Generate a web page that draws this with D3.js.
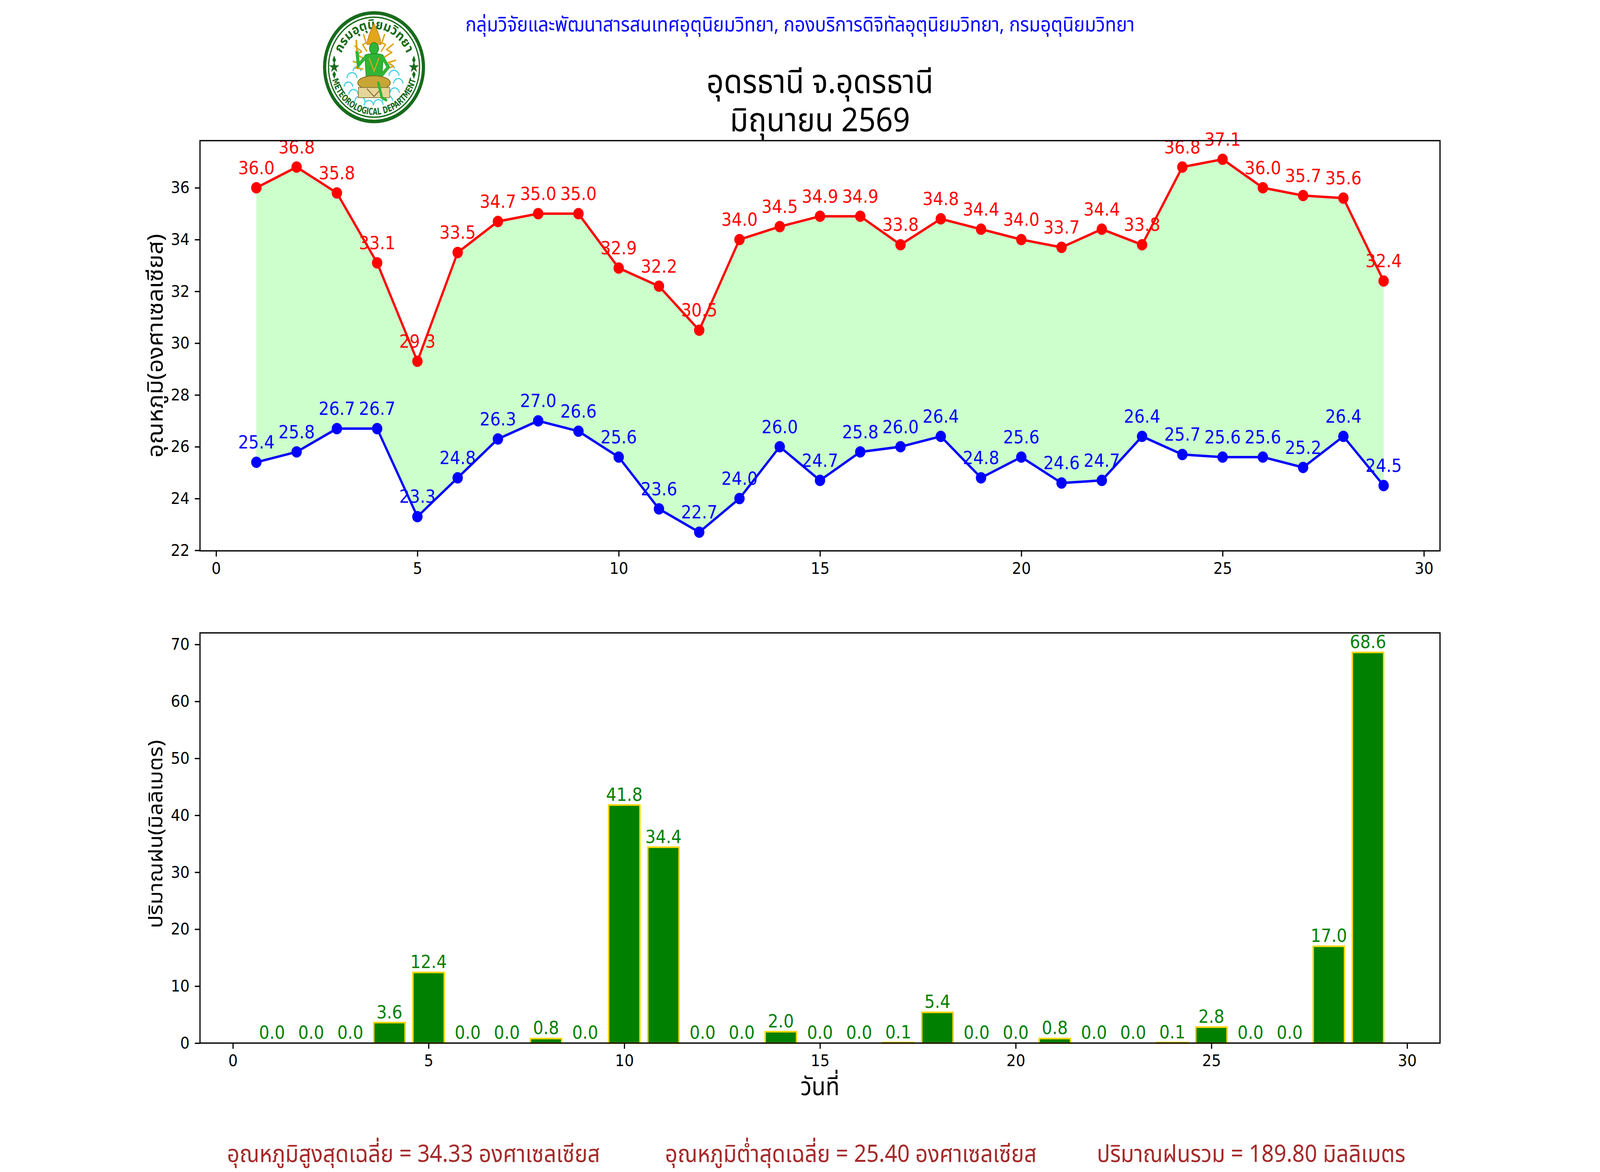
<!DOCTYPE html>
<html>
<head>
<meta charset="utf-8">
<script src="https://cdn.jsdelivr.net/npm/d3@7"></script>
<style>
  html, body { margin: 0; padding: 0; width: 100%; height: 100%; overflow: hidden; background: #fff; }
  svg { display: block; }
</style>
</head>
<body>
<script>
// daily values
var days = [1, 2, 3, 4, 5, 6, 7, 8, 9, 10, 11, 12, 13, 14, 15, 16, 17, 18, 19, 20, 21, 22, 23, 24, 25, 26, 27, 28, 29]
var tmax = [36.0, 36.8, 35.8, 33.1, 29.3, 33.5, 34.7, 35.0, 35.0, 32.9, 32.2, 30.5, 34.0, 34.5, 34.9, 34.9, 33.8, 34.8, 34.4, 34.0, 33.7, 34.4, 33.8, 36.8, 37.1, 36.0, 35.7, 35.6, 32.4]
var tmin = [25.4, 25.8, 26.7, 26.7, 23.3, 24.8, 26.3, 27.0, 26.6, 25.6, 23.6, 22.7, 24.0, 26.0, 24.7, 25.8, 26.0, 26.4, 24.8, 25.6, 24.6, 24.7, 26.4, 25.7, 25.6, 25.6, 25.2, 26.4, 24.5]
var rain = [0.0, 0.0, 0.0, 3.6, 12.4, 0.0, 0.0, 0.8, 0.0, 41.8, 34.4, 0.0, 0.0, 2.0, 0.0, 0.0, 0.1, 5.4, 0.0, 0.0, 0.8, 0.0, 0.0, 0.1, 2.8, 0.0, 0.0, 17.0, 68.6]

var dayTicks = [0, 5, 10, 15, 20, 25, 30]
var tempTicks = [22, 24, 26, 28, 30, 32, 34, 36]
var rainTicks = [0, 10, 20, 30, 40, 50, 60, 70]

var header = 'กลุ่มวิจัยและพัฒนาสารสนเทศอุตุนิยมวิทยา, กองบริการดิจิทัลอุตุนิยมวิทยา, กรมอุตุนิยมวิทยา'
var titleLines = ['อุดรธานี จ.อุดรธานี', 'มิถุนายน 2569']
var tempLabel = 'อุณหภูมิ(องศาเซลเซียส)'
var rainLabel = 'ปริมาณฝน(มิลลิเมตร)'
var dayLabel = 'วันที่'

var W = 4500, H = 3000
var THAI = '"Noto Sans Thai", "Noto Sans Thai UI", Loma, Garuda, "Noto Sans", "DejaVu Sans", sans-serif'
var NUM = '"DejaVu Sans", sans-serif'
var PT = 300 / 72

// drawn in 4500x3000 units, stretched over the whole window
var svg = d3.select('body').append('svg')
  .attr('width', '100%').attr('height', '100%')
  .attr('viewBox', '0 0 ' + W + ' ' + H)
  .attr('preserveAspectRatio', 'none')
svg.append('rect').attr('width', W).attr('height', H).attr('fill', '#fff')

// shrink / grow a text so it spans w units
function fit(sel, w) {
  var len = sel.node().getComputedTextLength()
  if (len > 0) sel.attr('font-size', parseFloat(sel.attr('font-size')) * w / len)
  return sel
}

var left = 562.5, right = 4050
var top1 = 360, bot1 = 1410
var top2 = 1620, bot2 = 2670

function styleAxis(g) {
  g.attr('font-size', 10 * PT).attr('font-family', NUM)
  g.select('.domain').remove()
  g.selectAll('.tick line').attr('stroke', '#000').attr('stroke-width', 0.8 * PT)
  g.selectAll('.tick text').attr('fill', '#000')
}

// ---------- temperature panel ----------
var tLo = d3.min(tmin), tHi = d3.max(tmax), tPad = (tHi - tLo) * 0.05
var x1 = d3.scaleLinear().domain([days[0] - 1.4, days[days.length - 1] + 1.4]).range([left, right])
var y1 = d3.scaleLinear().domain([tLo - tPad, tHi + tPad]).range([bot1, top1])

var p1 = svg.append('g')
p1.append('path')
  .datum(days)
  .attr('fill', '#ccffcc')
  .attr('d', d3.area()
    .x(function(d){ return x1(d) })
    .y0(function(d, i){ return y1(tmin[i]) })
    .y1(function(d, i){ return y1(tmax[i]) }))

var series = [{v: tmax, c: 'red'}, {v: tmin, c: 'blue'}]
series.forEach(function(s) {
  p1.append('path')
    .datum(days)
    .attr('fill', 'none')
    .attr('stroke', s.c)
    .attr('stroke-width', 1.5 * PT)
    .attr('stroke-linejoin', 'round')
    .attr('d', d3.line().x(function(d){ return x1(d) }).y(function(d, i){ return y1(s.v[i]) }))
  p1.selectAll(null).data(days).enter().append('circle')
    .attr('cx', function(d){ return x1(d) })
    .attr('cy', function(d, i){ return y1(s.v[i]) })
    .attr('r', 3.5 * PT)
    .attr('fill', s.c)
  p1.selectAll(null).data(days).enter().append('text')
    .attr('x', function(d){ return x1(d) })
    .attr('y', function(d, i){ return y1(s.v[i]) - 35 })
    .attr('text-anchor', 'middle')
    .attr('font-family', NUM)
    .attr('font-size', 46)
    .attr('fill', s.c)
    .text(function(d, i){ return s.v[i].toFixed(1) })
})

svg.append('g').attr('transform', 'translate(0,' + bot1 + ')')
  .call(d3.axisBottom(x1).tickValues(dayTicks).tickSize(3.5 * PT).tickPadding(3.5 * PT).tickFormat(d3.format('d')))
  .call(styleAxis)
svg.append('g').attr('transform', 'translate(' + left + ',0)')
  .call(d3.axisLeft(y1).tickValues(tempTicks).tickSize(3.5 * PT).tickPadding(3.5 * PT).tickFormat(d3.format('d')))
  .call(styleAxis)
svg.append('rect')
  .attr('x', left).attr('y', top1).attr('width', right - left).attr('height', bot1 - top1)
  .attr('fill', 'none').attr('stroke', '#000').attr('stroke-width', 0.8 * PT)

var yl1 = svg.append('text')
  .attr('transform', 'translate(457,' + ((top1 + bot1) / 2) + ')rotate(-90)')
  .attr('text-anchor', 'middle')
  .attr('font-family', THAI)
  .attr('font-size', 50)
  .attr('fill', '#000')
  .text(tempLabel)
fit(yl1, 573)

// ---------- rain panel ----------
var x2 = d3.scaleLinear().domain([days[0] - 0.4 - 1.44, days[days.length - 1] + 0.4 + 1.44]).range([left, right])
var y2 = d3.scaleLinear().domain([0, d3.max(rain) * 1.05]).range([bot2, top2])

var p2 = svg.append('g')
p2.selectAll(null).data(days).enter().append('rect')
  .attr('x', function(d){ return x2(d - 0.4) })
  .attr('width', function(d){ return x2(d + 0.4) - x2(d - 0.4) })
  .attr('y', function(d, i){ return y2(rain[i]) })
  .attr('height', function(d, i){ return y2(0) - y2(rain[i]) })
  .attr('fill', 'green')
  .attr('stroke', 'gold')
  .attr('stroke-width', 1 * PT)
p2.selectAll(null).data(days).enter().append('text')
  .attr('x', function(d){ return x2(d) })
  .attr('y', function(d, i){ return y2(rain[i]) - 11 })
  .attr('text-anchor', 'middle')
  .attr('font-family', NUM)
  .attr('font-size', 46)
  .attr('fill', 'green')
  .text(function(d, i){ return rain[i].toFixed(1) })

svg.append('g').attr('transform', 'translate(0,' + bot2 + ')')
  .call(d3.axisBottom(x2).tickValues(dayTicks).tickSize(3.5 * PT).tickPadding(3.5 * PT).tickFormat(d3.format('d')))
  .call(styleAxis)
svg.append('g').attr('transform', 'translate(' + left + ',0)')
  .call(d3.axisLeft(y2).tickValues(rainTicks).tickSize(3.5 * PT).tickPadding(3.5 * PT).tickFormat(d3.format('d')))
  .call(styleAxis)
svg.append('rect')
  .attr('x', left).attr('y', top2).attr('width', right - left).attr('height', bot2 - top2)
  .attr('fill', 'none').attr('stroke', '#000').attr('stroke-width', 0.8 * PT)

var yl2 = svg.append('text')
  .attr('transform', 'translate(457,' + ((top2 + bot2) / 2 - 10) + ')rotate(-90)')
  .attr('text-anchor', 'middle')
  .attr('font-family', THAI)
  .attr('font-size', 50)
  .attr('fill', '#000')
  .text(rainLabel)
fit(yl2, 482)

var xl = svg.append('text')
  .attr('x', (left + right) / 2).attr('y', 2803)
  .attr('text-anchor', 'middle')
  .attr('font-family', THAI)
  .attr('font-size', 50)
  .attr('fill', '#000')
  .text(dayLabel)
fit(xl, 110)

// ---------- header, title ----------
var hd = svg.append('text')
  .attr('x', W / 2).attr('y', 80)
  .attr('text-anchor', 'middle')
  .attr('font-family', THAI)
  .attr('font-size', 48)
  .attr('fill', 'blue')
  .text(header)
fit(hd, 1882)

var t0 = svg.append('text')
  .attr('x', (left + right) / 2).attr('y', 238)
  .attr('text-anchor', 'middle')
  .attr('font-family', THAI)
  .attr('font-size', 80)
  .attr('fill', '#000')
  .text(titleLines[0])
fit(t0, 638)
svg.append('text')
  .attr('x', (left + right) / 2).attr('y', 336)
  .attr('text-anchor', 'middle')
  .attr('font-family', THAI)
  .attr('font-size', t0.attr('font-size'))
  .attr('fill', '#000')
  .text(titleLines[1])

// ---------- footer ----------
var summary = [
  'อุณหภูมิสูงสุดเฉลี่ย = ' + d3.mean(tmax).toFixed(2) + ' องศาเซลเซียส',
  'อุณหภูมิต่ำสุดเฉลี่ย = ' + d3.mean(tmin).toFixed(2) + ' องศาเซลเซียส',
  'ปริมาณฝนรวม = ' + d3.sum(rain).toFixed(2) + ' มิลลิเมตร'
]
var footX = [1163, 2393, 3519]
var foot = svg.append('g')
  .attr('font-family', THAI)
  .attr('fill', '#a52a2a')
var f0 = foot.append('text').attr('font-size', 56).text(summary[0])
fit(f0, 1049)
var fs = f0.attr('font-size')
f0.remove()
foot.selectAll('text').data(summary).enter().append('text')
  .attr('x', function(d, i){ return footX[i] })
  .attr('y', 2974)
  .attr('text-anchor', 'middle')
  .attr('font-size', fs)
  .text(function(d){ return d })

// ---------- emblem ----------
var ring = '#176b1c', gold = '#e2a51c', cyan = '#3fcfe0', body = '#2fb534'
var defs = svg.append('defs')
var logo = svg.append('g').attr('transform', 'translate(1052,172)')
logo.append('circle').attr('r', 144).attr('fill', '#fff')
logo.append('circle').attr('r', 139).attr('fill', 'none').attr('stroke', ring).attr('stroke-width', 9)
logo.append('circle').attr('r', 128).attr('fill', 'none').attr('stroke', ring).attr('stroke-width', 3.5)

function arcPath(r, a0, a1, sweep) {
  var rad = Math.PI / 180
  return 'M' + r * Math.cos(a0 * rad) + ',' + r * Math.sin(a0 * rad) +
    'A' + r + ',' + r + ' 0 0 ' + sweep + ' ' + r * Math.cos(a1 * rad) + ',' + r * Math.sin(a1 * rad)
}
defs.append('path').attr('id', 'arcTop').attr('d', arcPath(98, 200, 340, 1))
defs.append('path').attr('id', 'arcBot').attr('d', arcPath(122, 168, 12, 0))
logo.append('text')
  .attr('font-family', THAI).attr('font-weight', 'bold').attr('font-size', 34).attr('fill', ring)
  .append('textPath').attr('href', '#arcTop').attr('startOffset', '50%').attr('text-anchor', 'middle')
  .attr('textLength', 236).attr('lengthAdjust', 'spacingAndGlyphs')
  .text('กรมอุตุนิยมวิทยา')
logo.append('text')
  .attr('font-family', '"DejaVu Sans", sans-serif').attr('font-weight', 'bold').attr('font-size', 24).attr('fill', ring)
  .append('textPath').attr('href', '#arcBot').attr('startOffset', '50%').attr('text-anchor', 'middle')
  .attr('textLength', 318).attr('lengthAdjust', 'spacingAndGlyphs')
  .text('METEOROLOGICAL DEPARTMENT')
// side ornaments
;[-112, 112].forEach(function(dx) {
  logo.append('path').attr('transform', 'translate(' + dx + ',0)')
    .attr('d', d3.symbol(d3.symbolStar, 260)()).attr('fill', ring)
  logo.append('path').attr('d', 'M' + dx + ',-30L' + (dx - 5) + ',-18L' + dx + ',-10L' + (dx + 5) + ',-18Z').attr('fill', ring)
  logo.append('path').attr('d', 'M' + dx + ',30L' + (dx - 5) + ',18L' + dx + ',10L' + (dx + 5) + ',18Z').attr('fill', ring)
})
// clouds
var clouds = [[-62, 28, 14], [-72, 50, 12], [-58, 70, 13], [-40, 88, 14], [-15, 98, 13], [12, 96, 13], [38, 86, 14],
  [58, 66, 13], [68, 42, 13], [56, 22, 14], [-48, 10, 11], [46, 4, 11]]
clouds.forEach(function(c) {
  logo.append('path')
    .attr('d', 'M' + (c[0] - c[2]) + ',' + c[1] + 'A' + c[2] + ',' + c[2] + ' 0 0 1 ' + (c[0] + c[2]) + ',' + c[1])
    .attr('fill', 'none').attr('stroke', cyan).attr('stroke-width', 3)
})
// lightning
var bolts = [
  [[-55, -55], [-35, -40], [-48, -32], [-25, -20]],
  [[-60, -15], [-40, -10], [-52, 2], [-30, 5]],
  [[55, -60], [35, -45], [50, -38], [28, -25]],
  [[62, -18], [40, -12], [55, -2], [32, 4]],
  [[-30, -85], [-22, -62], [-32, -58], [-20, -40]],
  [[30, -85], [22, -62], [32, -58], [20, -40]]
]
bolts.forEach(function(b) {
  logo.append('path').attr('d', d3.line()(b))
    .attr('fill', 'none').attr('stroke', gold).attr('stroke-width', 4).attr('stroke-linejoin', 'round')
})
// deity
logo.append('path').attr('d', 'M0,-112C8,-95 18,-80 20,-58L-20,-58C-18,-80 -8,-95 0,-112Z').attr('fill', gold).attr('stroke', '#b07810').attr('stroke-width', 1.5)
logo.append('ellipse').attr('cy', -48).attr('rx', 13).attr('ry', 15).attr('fill', body).attr('stroke', '#1d7a22').attr('stroke-width', 1.5)
logo.append('path').attr('d', 'M-26,-30C-22,-36 22,-36 26,-30L22,30L-22,30Z').attr('fill', body).attr('stroke', '#1d7a22').attr('stroke-width', 1.5)
logo.append('path').attr('d', 'M-24,-26L-44,-5L-48,-40').attr('fill', 'none').attr('stroke', body).attr('stroke-width', 9).attr('stroke-linecap', 'round')
logo.append('path').attr('d', 'M-48,-40L-50,-70').attr('fill', 'none').attr('stroke', gold).attr('stroke-width', 5)
logo.append('path').attr('d', 'M24,-26L40,0L22,20').attr('fill', 'none').attr('stroke', body).attr('stroke-width', 9).attr('stroke-linecap', 'round')
logo.append('path').attr('d', 'M-14,-24L0,10L14,-24').attr('fill', 'none').attr('stroke', gold).attr('stroke-width', 3)
logo.append('ellipse').attr('cy', 40).attr('rx', 46).attr('ry', 18).attr('fill', '#c8a636').attr('stroke', '#7a6a1a').attr('stroke-width', 2)
logo.append('rect').attr('x', -44).attr('y', 52).attr('width', 88).attr('height', 26).attr('fill', '#e6d59a').attr('stroke', '#8a7a3a').attr('stroke-width', 2)
logo.append('path').attr('d', 'M-20,55L0,75L20,55').attr('fill', 'none').attr('stroke', '#6a5a20').attr('stroke-width', 2)
logo.append('path').attr('d', 'M12,40L22,78L34,84').attr('fill', 'none').attr('stroke', body).attr('stroke-width', 7).attr('stroke-linecap', 'round')
</script>
</body>
</html>
